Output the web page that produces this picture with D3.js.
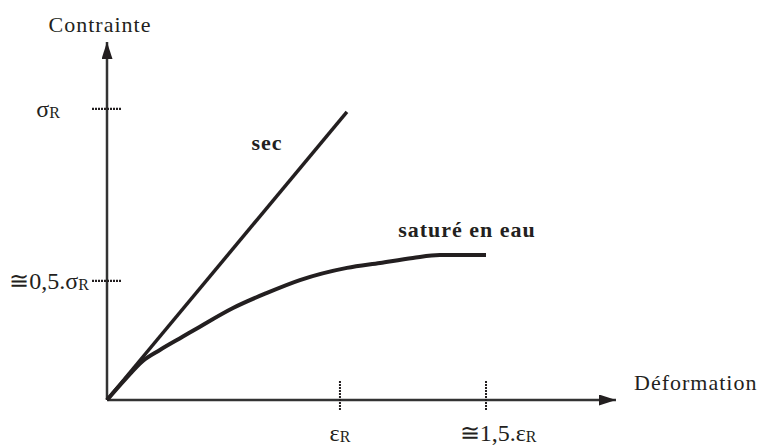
<!DOCTYPE html>
<html>
<head>
<meta charset="utf-8">
<script src="https://cdn.jsdelivr.net/npm/d3@7"></script>
<style>
  body { margin: 0; background: #fff; }
</style>
</head>
<body>
<div id="wrapper"></div>
<script>
// deformation in units of eps_R, stress in units of sigma_R
const secX = [0, 1.03]
const secY = [0, 0.99]

const satX = [0, 0.077, 0.155, 0.227, 0.326, 0.399, 0.541, 0.687, 0.828, 1.03, 1.172, 1.313, 1.429, 1.627]
const satY = [0, 0.07, 0.135, 0.172, 0.218, 0.252, 0.316, 0.368, 0.412, 0.454, 0.471, 0.488, 0.498, 0.498]

const xTickValues = [1, 1.627]
const xTickMain = ["ε", "≅1,5.ε"]
const yTickValues = [1, 0.409]
const yTickMain = ["σ", "≅0,5.σ"]

const xMax = 2.185
const yMax = 1.23

function drawChart() {
    const dimensions = {
        width: 761,
        height: 447,
        margin: { top: 42, right: 145, bottom: 47, left: 107 },
    }
    dimensions.boundedWidth = dimensions.width - dimensions.margin.left - dimensions.margin.right
    dimensions.boundedHeight = dimensions.height - dimensions.margin.top - dimensions.margin.bottom

    const wrapper = d3.select("#wrapper")
        .append("svg")
        .attr("width", dimensions.width)
        .attr("height", dimensions.height)
        .attr("font-family", "'Liberation Serif', 'Times New Roman', 'DejaVu Serif', serif")
        .attr("fill", "#231f20")

    const defs = wrapper.append("defs")
    defs.append("marker")
        .attr("id", "arrow")
        .attr("viewBox", "0 0 17 11")
        .attr("refX", 17)
        .attr("refY", 5.5)
        .attr("markerWidth", 17)
        .attr("markerHeight", 11)
        .attr("markerUnits", "userSpaceOnUse")
        .attr("orient", "auto")
        .append("path")
        .attr("d", "M0,0 L17,5.5 L0,11 Z")
        .attr("fill", "#231f20")

    const bounds = wrapper.append("g")
        .attr("transform", `translate(${dimensions.margin.left},${dimensions.margin.top})`)

    const xScale = d3.scaleLinear()
        .domain([0, xMax])
        .range([0, 509])
    const yScale = d3.scaleLinear()
        .domain([0, yMax])
        .range([dimensions.boundedHeight, 0])

    // axes with arrows
    bounds.append("line")
        .attr("x1", xScale(0)).attr("y1", yScale(0))
        .attr("x2", xScale(xMax)).attr("y2", yScale(0))
        .attr("stroke", "#333").attr("stroke-width", 2.5)
        .attr("marker-end", "url(#arrow)")
    bounds.append("line")
        .attr("x1", xScale(0)).attr("y1", yScale(0))
        .attr("x2", xScale(0)).attr("y2", yScale(yMax))
        .attr("stroke", "#333").attr("stroke-width", 2.5)
        .attr("marker-end", "url(#arrow)")

    // dotted ticks
    bounds.selectAll(".ytick")
        .data(yTickValues)
        .join("line")
        .attr("class", "ytick")
        .attr("x1", xScale(0) - 15).attr("x2", xScale(0) + 15)
        .attr("y1", d => yScale(d)).attr("y2", d => yScale(d))
        .attr("stroke", "#231f20").attr("stroke-width", 2.2)
        .attr("stroke-dasharray", "2,1")
    bounds.selectAll(".xtick")
        .data(xTickValues)
        .join("line")
        .attr("class", "xtick")
        .attr("x1", d => xScale(d)).attr("x2", d => xScale(d))
        .attr("y1", yScale(0) - 19).attr("y2", yScale(0) + 11)
        .attr("stroke", "#231f20").attr("stroke-width", 2)
        .attr("stroke-dasharray", "2,1")

    // tick labels
    const yLabelX = [-59, -58]
    const yLabelDy = [8, 8]
    yTickValues.forEach((v, i) => {
        const t = bounds.append("text")
            .attr("x", yLabelX[i])
            .attr("y", yScale(v) + yLabelDy[i])
            .attr("text-anchor", "middle")
            .attr("font-size", "24px")
        t.append("tspan").text(yTickMain[i])
        t.append("tspan").attr("font-size", "16px").attr("dy", 1).text("R")
    })
    const xLabelDx = [0, 12]
    xTickValues.forEach((v, i) => {
        const t = bounds.append("text")
            .attr("x", xScale(v) + xLabelDx[i])
            .attr("y", yScale(0) + 41)
            .attr("text-anchor", "middle")
            .attr("font-size", "24px")
        t.append("tspan").text(xTickMain[i])
        t.append("tspan").attr("font-size", "16px").attr("dy", 1).text("R")
    })

    // series
    const line = d3.line()
        .x(d => xScale(d[0]))
        .y(d => yScale(d[1]))

    bounds.append("path")
        .datum(d3.zip(secX, secY))
        .attr("d", line)
        .attr("fill", "none")
        .attr("stroke", "#231f20")
        .attr("stroke-width", 3.5)

    bounds.append("path")
        .datum(d3.zip(satX, satY))
        .attr("d", line.curve(d3.curveMonotoneX))
        .attr("fill", "none")
        .attr("stroke", "#231f20")
        .attr("stroke-width", 4)
        .attr("stroke-linejoin", "round")

    // series labels
    bounds.append("text")
        .attr("x", xScale(0.62))
        .attr("y", yScale(0.86))
        .attr("font-size", "22px")
        .attr("font-weight", "bold")
        .attr("letter-spacing", "1px")
        .text("sec")
    bounds.append("text")
        .attr("x", xScale(1.25))
        .attr("y", yScale(0.56))
        .attr("font-size", "22px")
        .attr("font-weight", "bold")
        .attr("letter-spacing", "1px")
        .text("saturé en eau")

    // axis titles
    bounds.append("text")
        .attr("x", xScale(0) - 7)
        .attr("y", -10)
        .attr("text-anchor", "middle")
        .attr("font-size", "22px")
        .attr("letter-spacing", "1px")
        .text("Contrainte")
    bounds.append("text")
        .attr("x", xScale(xMax) + 18)
        .attr("y", yScale(0) - 10)
        .attr("font-size", "22px")
        .attr("letter-spacing", "1px")
        .text("Déformation")
}

drawChart()
</script>
</body>
</html>
